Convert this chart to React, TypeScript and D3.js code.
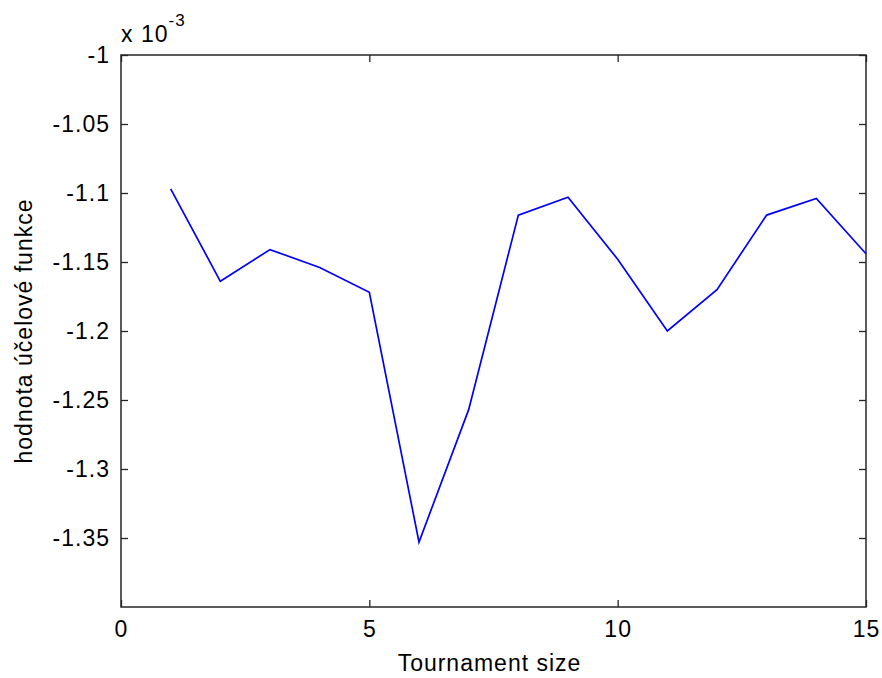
import { useEffect, useRef } from "react";
import * as d3 from "d3";

// tournament size vs. objective value (values shown in units of 1e-3)
const tournamentSizes = [1, 2, 3, 4, 5, 6, 7, 8, 9, 10, 11, 12, 13, 14, 15];
const objectiveValues = [
  -1.097, -1.164, -1.141, -1.154, -1.172, -1.353, -1.257, -1.116, -1.103,
  -1.148, -1.2, -1.17, -1.116, -1.104, -1.144,
];
const xTicks = [0, 5, 10, 15];
const yTicks = [-1, -1.05, -1.1, -1.15, -1.2, -1.25, -1.3, -1.35];
const yExponent = "-3";

const W = 882;
const H = 678;
const FONT = "'Liberation Sans', Arial, sans-serif";
const FS = 23;
const LS = "1px";

export default function App() {
  const svgRef = useRef<SVGSVGElement>(null);

  useEffect(() => {
    document.body.style.margin = "0";
    document.body.style.overflow = "hidden";
    const svg = svgRef.current;
    if (!svg) return;

    const margin = { top: 55, right: 16, bottom: 71, left: 121 };
    const innerW = W - margin.left - margin.right;
    const innerH = H - margin.top - margin.bottom;

    const root = d3.select(svg);
    root.selectAll("*").remove();

    const x = d3.scaleLinear().domain([0, 15]).range([0, innerW]);
    const y = d3.scaleLinear().domain([-1.4, -1]).range([innerH, 0]);

    const g = root
      .append("g")
      .attr("transform", `translate(${margin.left},${margin.top})`);

    const styleAxis = (sel: d3.Selection<SVGGElement, unknown, null, undefined>) => {
      sel.select(".domain").remove();
      sel.selectAll(".tick line").attr("stroke", "#262626").attr("stroke-width", 1.3);
      sel
        .selectAll(".tick text")
        .attr("fill", "#000")
        .attr("font-family", FONT)
        .attr("font-size", FS)
        .attr("letter-spacing", LS);
    };

    // bottom / top axes, ticks point inward
    g.append("g")
      .attr("transform", `translate(0,${innerH})`)
      .call(d3.axisBottom(x).tickValues(xTicks).tickSize(-7).tickPadding(14).tickFormat(d3.format("d")))
      .call(styleAxis);
    g.append("g")
      .call(d3.axisTop(x).tickValues(xTicks).tickSize(-7).tickFormat(() => ""))
      .call(styleAxis);

    // left / right axes
    g.append("g")
      .call(
        d3
          .axisLeft(y)
          .tickValues(yTicks)
          .tickSize(-7)
          .tickPadding(11)
          .tickFormat((d) => String(+(+d).toFixed(2)))
      )
      .call(styleAxis);
    g.append("g")
      .attr("transform", `translate(${innerW},0)`)
      .call(d3.axisRight(y).tickValues(yTicks).tickSize(-7).tickFormat(() => ""))
      .call(styleAxis);

    // box
    g.append("rect")
      .attr("width", innerW)
      .attr("height", innerH)
      .attr("fill", "none")
      .attr("stroke", "#262626")
      .attr("stroke-width", 1.5);

    // data line
    const line = d3
      .line<number>()
      .x((_, i) => x(tournamentSizes[i]))
      .y((d) => y(d));
    g.append("path")
      .datum(objectiveValues)
      .attr("fill", "none")
      .attr("stroke", "#0000ff")
      .attr("stroke-width", 1.7)
      .attr("d", line);

    // axis labels
    g.append("text")
      .attr("x", innerW / 2 - 4)
      .attr("y", innerH + 64)
      .attr("text-anchor", "middle")
      .attr("font-family", FONT)
      .attr("font-size", FS)
      .attr("letter-spacing", LS)
      .text("Tournament size");

    g.append("text")
      .attr("transform", "rotate(-90)")
      .attr("x", -innerH / 2)
      .attr("y", -89)
      .attr("text-anchor", "middle")
      .attr("font-family", FONT)
      .attr("font-size", FS)
      .attr("letter-spacing", LS)
      .text("hodnota účelové funkce");

    // exponent label
    const expo = g
      .append("text")
      .attr("x", 0)
      .attr("y", -13)
      .attr("font-family", FONT)
      .attr("font-size", FS)
      .attr("letter-spacing", LS);
    expo.append("tspan").text("x 10");
    expo.append("tspan").attr("dy", -16).attr("font-size", 17).text(yExponent);
  }, []);

  return <svg ref={svgRef} width={W} height={H} style={{ display: "block", background: "#fff" }} />;
}
